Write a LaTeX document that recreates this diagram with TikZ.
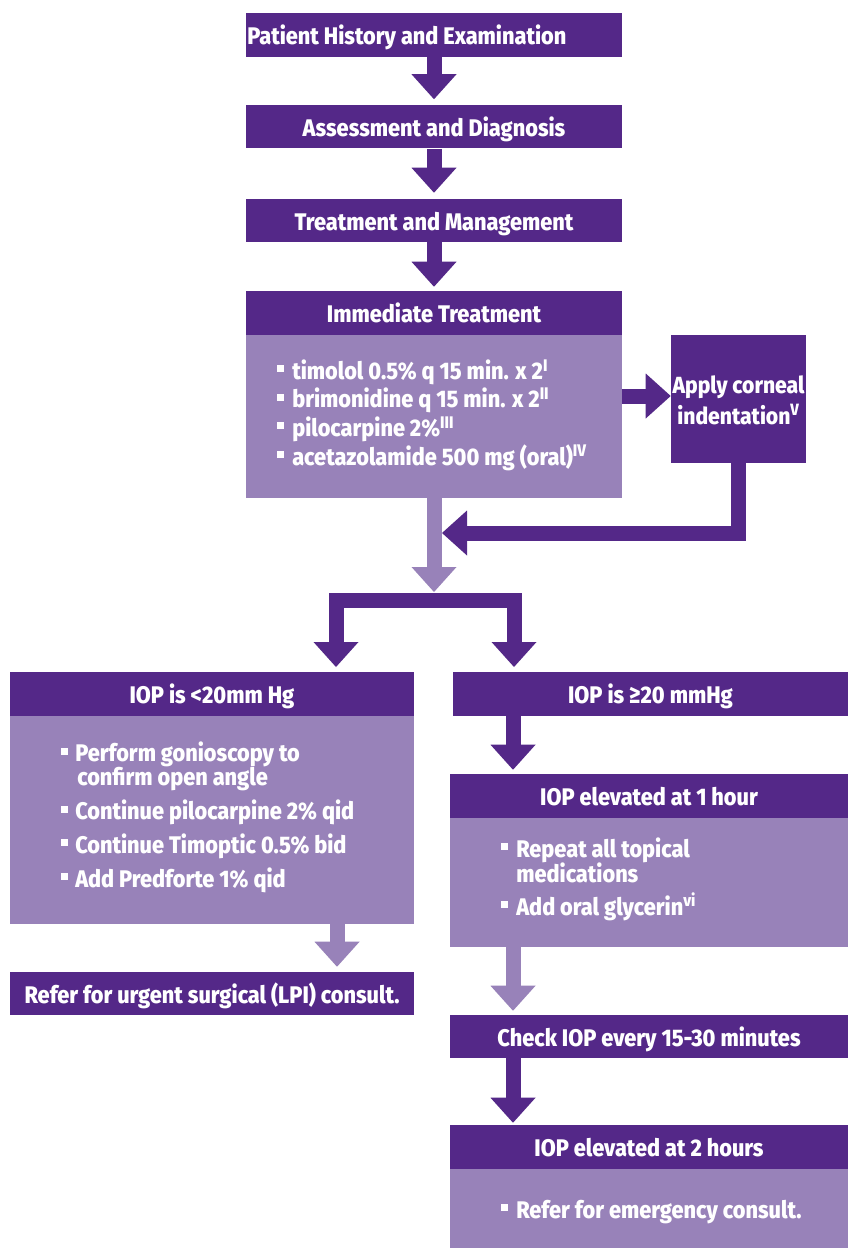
\documentclass[tikz,border=0pt]{standalone}
\usepackage{fontspec}
\setmainfont{Fira Sans}[FakeStretch=0.9,BoldFont={Fira Sans ExtraBold},BoldFeatures={FakeStretch=0.905}]
\usetikzlibrary{arrows.meta}
\definecolor{dk}{RGB}{84,40,136}
\definecolor{lt}{RGB}{152,130,185}
\newdimen\PX \PX=0.75pt
\newcommand\bul{\makebox[15\PX][l]{\rule[7\PX]{7\PX}{7\PX}}}
\newcommand\bulL{\makebox[14\PX][l]{\rule[7\PX]{7\PX}{7\PX}}}
\newcommand\lsk[1]{\fontsize{18pt}{#1}\selectfont\bfseries\lineskiplimit=-50pt\lineskip=0pt}
\begin{document}
\begin{tikzpicture}[x=0.75pt,y=-0.75pt,
  hdr/.style={fill=dk,text=white,inner sep=0pt,text height=19\PX,text depth=0pt,
    font=\fontsize{18pt}{20pt}\selectfont\bfseries},
  bdy/.style={fill=lt,inner sep=0pt},
  lst/.style={anchor=base west,inner sep=0pt,align=left,text=white},
  dtip/.tip={Triangle[width=33.75pt,length=18.75pt,line width=0pt]},
  darr/.style={draw=dk,line width=11.25pt,-dtip},
  larr/.style={draw=lt,line width=11.25pt,-dtip},
  dbl/.style={draw=dk,line width=11.25pt,dtip-dtip}]
\useasboundingbox (0,0) rectangle (848,1248);
\fill[white] (0,0) rectangle (848,1248);
% top column
\node[hdr,minimum width=376\PX,minimum height=44\PX] (b1) at (434,35) {};
\node[anchor=base west,inner sep=0pt,text=white,font=\fontsize{18pt}{20pt}\selectfont\bfseries] (b1t) at (247,44.5) {Patient History and Examination};
\node[hdr,minimum width=376\PX,minimum height=43\PX] (b2) at (434,127) {Assessment and Diagnosis};
\node[hdr,minimum width=376\PX,minimum height=43\PX] (b3) at (434,220.5) {Treatment and Management};
\node[hdr,minimum width=376\PX,minimum height=44\PX] (ih) at (434,313) {Immediate Treatment};
\node[bdy,minimum width=376\PX,minimum height=163\PX] (ib) at (434,416.5) {};
\node[lst,font=\lsk{21.4pt}] (il) at (277,465)
  {\bul timolol 0.5\% q 15 min. x 2\textsuperscript{I}\\
   \bul brimonidine q 15 min. x 2\textsuperscript{II}\\
   \bul pilocarpine 2\%\textsuperscript{III}\\
   \bul acetazolamide 500 mg (oral)\textsuperscript{IV}};
% corneal
\node[fill=dk,inner sep=0pt,minimum width=135\PX,minimum height=128\PX] (cor) at (738.5,399) {};
\node[anchor=base,inner sep=0pt,align=center,text=white,font=\lsk{23.25pt}\fontsize{17.5pt}{23.25pt}\selectfont] (cort) at (738.5,424)
  {Apply corneal\\indentation\textsuperscript{V}};
% left branch
\node[hdr,minimum width=404\PX,minimum height=44\PX] (lh) at (212,694) {IOP is <20mm Hg};
\node[bdy,minimum width=404\PX,minimum height=208\PX] (lb) at (212,820) {};
\node[lst,font=\lsk{18pt}] (ll) at (61,887)
  {\bulL Perform gonioscopy to\\
   \hspace*{16\PX}confirm open angle\\[7.3pt]
   \bulL Continue pilocarpine 2\% qid\\[7.3pt]
   \bulL Continue Timoptic 0.5\% bid\\[7.3pt]
   \bulL Add Predforte 1\% qid};
\node[hdr,minimum width=404\PX,minimum height=43\PX] (ref) at (212,993.5) {Refer for urgent surgical (LPI) consult.};
% right branch
\node[hdr,minimum width=395\PX,minimum height=44\PX] (rh) at (650.5,694) {IOP is ≥20 mmHg};
\node[hdr,minimum width=398\PX,minimum height=44\PX] (h1) at (649,796) {IOP elevated at 1 hour};
\node[bdy,minimum width=398\PX,minimum height=129\PX] (bh1) at (649,882.5) {};
\node[lst,font=\lsk{18.75pt}] (rl) at (501,915)
  {\bul Repeat all topical\\
   \hspace*{15\PX}medications\\[6pt]
   \bul Add oral glycerin\textsuperscript{vi}};
\node[hdr,minimum width=398\PX,minimum height=43\PX] (chk) at (649,1036.5) {Check IOP every 15-30 minutes};
\node[hdr,minimum width=398\PX,minimum height=44\PX] (h2) at (649,1147) {IOP elevated at 2 hours};
\node[bdy,minimum width=398\PX,minimum height=79\PX] (bh2) at (649,1208.5) {};
\node[lst,font=\lsk{20pt}] (el) at (501,1218)
  {\bul Refer for emergency consult.};
% coordinates
\coordinate (ry) at (0,396);
\coordinate (ret) at (442,533);
\coordinate (split) at (434,592);
\coordinate (tl) at (336,667);
\coordinate (bl) at (336,600);
\coordinate (br) at (514,600);
\coordinate (tr) at (514,667);
\coordinate (axl) at (337,0);
\coordinate (axr) at (513,0);
% connectors
\draw[darr,shorten >=4.5pt] (b1.south) -- (b2.north);
\draw[darr,shorten >=4.5pt] (b2.south) -- (b3.north);
\draw[darr,shorten >=3pt] (b3.south) -- (ih.north);
\draw[darr] (ib.east |- ry) -- (cor.west |- ry);
\draw[darr] (cor.south) |- (ret);
\draw[larr] (ib.south) -- (split);
\draw[dbl] (tl) -- (bl) -- (br) -- (tr);
\draw[larr,shorten >=3.75pt] (lb.south -| axl) -- (ref.north -| axl);
\draw[darr,shorten >=3pt] (rh.south -| axr) -- (h1.north -| axr);
\draw[larr,shorten >=3pt] (bh1.south -| axr) -- (chk.north -| axr);
\draw[darr,shorten >=1.5pt] (chk.south -| axr) -- (h2.north -| axr);
\end{tikzpicture}
\end{document}
